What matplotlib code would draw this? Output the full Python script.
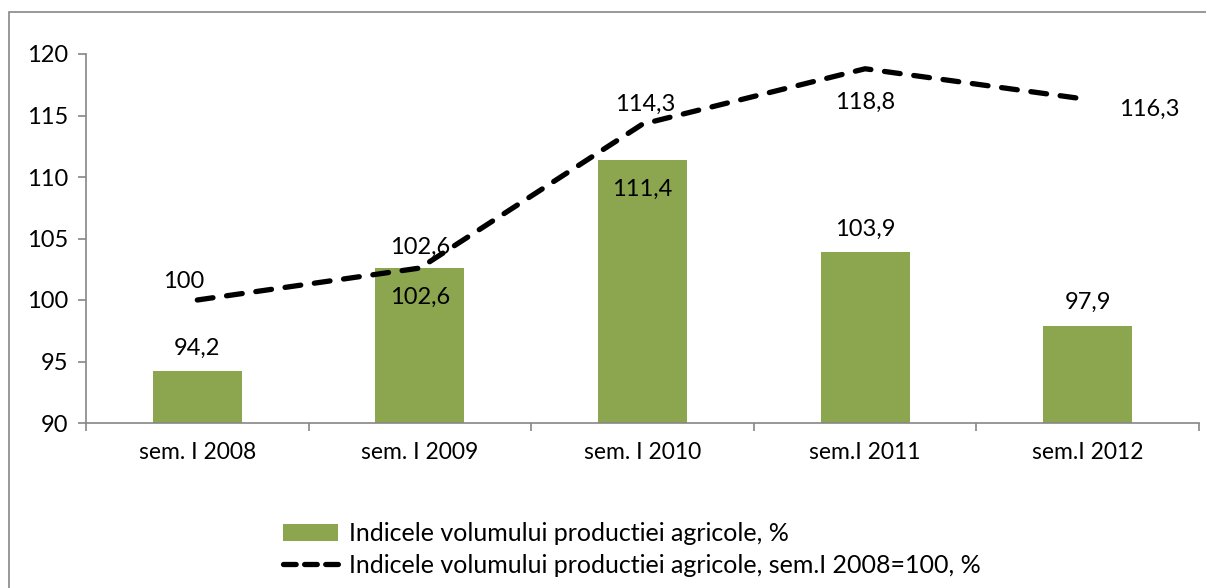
import matplotlib.pyplot as plt
from matplotlib.patches import Rectangle
from matplotlib.lines import Line2D
import numpy as np

plt.rcParams['font.family'] = ['Lato', 'DejaVu Sans']

# date
perioade = ["sem. I 2008", "sem. I 2009", "sem. I 2010", "sem.I 2011", "sem.I 2012"]
indice_anual = [94.2, 102.6, 111.4, 103.9, 97.9]
indice_baza = [100, 102.6, 114.3, 118.8, 116.3]

eticheta_bare = "Indicele volumului productiei agricole, %"
eticheta_linie = "Indicele volumului productiei agricole, sem.I 2008=100, %"

verde = "#8BA64E"
gri = "#868686"


def fmt(v):
    # virgula zecimala
    s = f"{v:g}"
    return s.replace(".", ",")


fig = plt.figure(figsize=(12.06, 5.88), dpi=100)

# chenarul graficului (taiat in dreapta si jos)
fig.patches.append(Rectangle((9 / 1206, -0.05), 1.2, 1 - 12 / 588 + 0.05,
                             transform=fig.transFigure, fill=False,
                             edgecolor=gri, linewidth=1.2))

ax = fig.add_axes([86 / 1206, 1 - 423 / 588, (1199 - 86) / 1206, (423 - 54) / 588])

x = np.arange(len(perioade))
bare = ax.bar(x, indice_anual, width=0.4, color=verde, bottom=0,
              label=eticheta_bare, zorder=2)
linie, = ax.plot(x, indice_baza, color="black", linewidth=3.8,
                 linestyle=(0, (3.0, 2.6)), dash_capstyle="round",
                 label=eticheta_linie, zorder=3)

ax.set_xlim(-0.5, len(perioade) - 0.5)
ax.set_ylim(90, 120)
ax.set_yticks(range(90, 121, 5))
ax.set_xticks(x)
ax.set_xticklabels(perioade)
ax.set_xticks(np.arange(-0.5, len(perioade), 1), minor=True)
ax.tick_params(axis="x", which="major", length=0, pad=14, labelsize=16.5)
ax.tick_params(axis="x", which="minor", length=6, color=gri, width=1.2)
ax.tick_params(axis="y", length=6, color=gri, width=1.2, labelsize=17, pad=7)

for s in ["top", "right"]:
    ax.spines[s].set_visible(False)
for s in ["left", "bottom"]:
    ax.spines[s].set_color(gri)
    ax.spines[s].set_linewidth(1.2)

# etichete bare: (dx puncte, dy puncte)
dep_bare = [(0, 9), (0, -29), (0, -29), (0, 9), (0, 9)]
for xi, v, (dx, dy) in zip(x, indice_anual, dep_bare):
    ax.annotate(fmt(v), (xi, v), xytext=(dx, dy), textcoords="offset points",
                ha="center", va="bottom", fontsize=17)

# etichete linie
dep_linie = [(-10, 6), (0, 7), (2, 7), (0, -32), (44, -15)]
for xi, v, (dx, dy) in zip(x, indice_baza, dep_linie):
    ax.annotate(fmt(v), (xi, v), xytext=(dx, dy), textcoords="offset points",
                ha="center", va="bottom", fontsize=17)

# simbol legenda cu trei liniute
simbol_linie = Line2D([], [], color="black", linewidth=3.8,
                      linestyle=(0, (2.4, 1.6)), dash_capstyle="round")

fig.legend(handles=[bare, simbol_linie], labels=[eticheta_bare, eticheta_linie],
           loc="upper left", bbox_to_anchor=(283 / 1206, 1 - 522 / 588),
           frameon=False, fontsize=18, handlelength=2.2, handletextpad=0.45,
           labelspacing=0.35, borderaxespad=0, borderpad=0)

fig.savefig("out.png", dpi=100)
